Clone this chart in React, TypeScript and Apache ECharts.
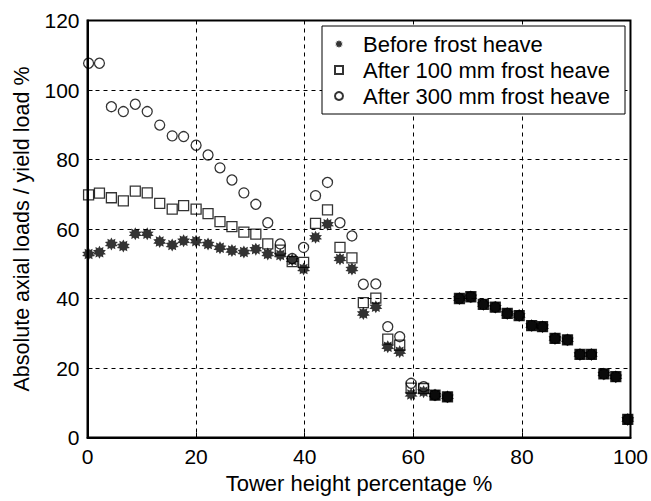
import React, { useEffect, useRef } from "react";
import * as echarts from "echarts";

const xValues = [
  0.2, 2.2, 4.4, 6.6, 8.8, 11.0, 13.3, 15.6, 17.7, 20.0,
  22.2, 24.4, 26.6, 28.8, 31.0, 33.2, 35.5, 37.7, 39.8, 42.0,
  44.2, 46.5, 48.7, 50.8, 53.1, 55.3, 57.5, 59.6, 61.9, 64.0,
  66.3, 68.5, 70.6, 72.9, 75.1, 77.3, 79.5, 81.8, 83.8, 86.1,
  88.4, 90.7, 92.8, 95.1, 97.3, 99.5,
];

const beforeHeave = [
  52.8, 53.3, 55.7, 55.1, 58.6, 58.6, 56.4, 55.4, 56.6, 56.5,
  55.7, 54.6, 53.8, 53.4, 54.2, 52.8, 52.5, 51.1, 48.5, 57.6,
  61.4, 51.4, 48.5, 35.7, 37.6, 26.1, 24.7, 12.4, 13.2, 12.2,
  11.7, 40.0, 40.5, 38.3, 37.5, 35.7, 35.1, 32.2, 31.9, 28.5,
  28.1, 23.9, 23.9, 18.3, 17.5, 5.2,
];

const after100 = [
  69.8, 70.3, 69.0, 68.1, 70.9, 70.4, 67.4, 65.7, 66.7, 65.7,
  64.4, 62.1, 60.7, 59.1, 58.5, 55.7, 53.9, 50.6, 50.4, 61.6,
  65.5, 54.7, 51.7, 38.8, 40.1, 28.3, 26.6, 14.2, 14.1, 12.2,
  11.7, 40.0, 40.5, 38.3, 37.5, 35.7, 35.1, 32.2, 31.9, 28.5,
  28.1, 23.9, 23.9, 18.3, 17.5, 5.2,
];

const after300 = [
  107.7, 107.7, 95.2, 93.8, 95.9, 93.8, 89.9, 86.8, 86.6, 84.1,
  81.3, 77.6, 74.1, 70.4, 67.1, 61.8, 55.7, 51.5, 54.7, 69.6,
  73.4, 61.8, 58.0, 44.1, 44.2, 31.9, 29.0, 15.6, 14.6, 12.2,
  11.7, 40.0, 40.5, 38.3, 37.5, 35.7, 35.1, 32.2, 31.9, 28.5,
  28.1, 23.9, 23.9, 18.3, 17.5, 5.2,
];

const seriesNames = [
  "Before frost heave",
  "After 100 mm frost heave",
  "After 300 mm frost heave",
];

function starPath(points: number, outer: number, inner: number): string {
  let d = "";
  const n = points * 2;
  for (let i = 0; i < n; i++) {
    const r = i % 2 === 0 ? outer : inner;
    const a = (Math.PI * 2 * i) / n - Math.PI / 2;
    const px = (50 + r * Math.cos(a)).toFixed(2);
    const py = (50 + r * Math.sin(a)).toFixed(2);
    d += (i === 0 ? "M" : "L") + px + " " + py + " ";
  }
  return "path://" + d + "Z";
}

const FONT = "'Liberation Sans', Arial, Helvetica, sans-serif";

export default function App() {
  const ref = useRef<HTMLDivElement>(null);

  useEffect(() => {
    if (!ref.current) return;
    document.body.style.margin = "0";
    const chart = echarts.init(ref.current, undefined, { renderer: "svg" });
    const star = starPath(10, 50, 32);
    const squarePath = "path://M0 0 L100 0 L100 100 L0 100 Z";
    const pair = (arr: number[]) => arr.map((v, i) => [xValues[i], v]);
    const overlapStart = 29;

    const option: any = {
      animation: false,
      backgroundColor: "#ffffff",
      textStyle: { fontFamily: FONT },
      grid: {
        left: 87.5,
        right: 19,
        top: 20.5,
        bottom: 63.5,
        show: true,
        borderColor: "#000",
        borderWidth: 2,
        backgroundColor: "transparent",
      },
      xAxis: {
        type: "value",
        min: 0,
        max: 100,
        interval: 20,
        name: "Tower height percentage %",
        nameLocation: "middle",
        nameGap: 35,
        nameTextStyle: { color: "#000", fontSize: 22, fontFamily: FONT },
        axisLine: { show: true, lineStyle: { color: "#000", width: 2 } },
        axisTick: { show: true, inside: true, length: 5, lineStyle: { color: "#000" } },
        axisLabel: { color: "#000", fontSize: 21, margin: 8, fontFamily: FONT },
        splitLine: {
          show: true,
          lineStyle: { color: "#000", width: 1, type: [4, 4] },
        },
      },
      yAxis: {
        type: "value",
        min: 0,
        max: 120,
        interval: 20,
        name: "Absolute axial loads / yield load %",
        nameLocation: "middle",
        nameGap: 55,
        nameTextStyle: { color: "#000", fontSize: 21.5, fontFamily: FONT },
        axisLine: { show: true, lineStyle: { color: "#000", width: 2 } },
        axisTick: { show: true, inside: true, length: 5, lineStyle: { color: "#000" } },
        axisLabel: { color: "#000", fontSize: 21, margin: 8, fontFamily: FONT },
        splitLine: {
          show: true,
          lineStyle: { color: "#000", width: 1, type: [4, 4] },
        },
      },
      graphic: {
        elements: [
          {
            type: "rect",
            shape: { x: 322, y: 26, width: 303, height: 88 },
            style: { fill: "#ffffff", stroke: "#000000", lineWidth: 1 },
            z: 50,
            silent: true,
          },
        ],
      },
      legend: {
        orient: "vertical",
        left: 334,
        top: 33,
        itemWidth: 8,
        itemHeight: 8,
        itemGap: 4,
        padding: 0,
        z: 60,
        textStyle: {
          color: "#000",
          fontSize: 22,
          fontFamily: FONT,
          padding: [0, 0, 0, 15],
        },
        data: seriesNames,
      },
      series: [
        {
          name: seriesNames[0],
          type: "scatter",
          symbol: star,
          symbolSize: 13,
          itemStyle: { color: "#000" },
          data: pair(beforeHeave),
          z: 2,
        },
        {
          name: seriesNames[1],
          type: "scatter",
          symbol: squarePath,
          symbolSize: 10,
          itemStyle: { color: "transparent", borderColor: "#000", borderWidth: 1.3 },
          data: pair(after100).map((p, i) =>
            i >= overlapStart
              ? { value: p, itemStyle: { color: "#000", borderColor: "#000" } }
              : p
          ),
          z: 3,
        },
        {
          name: seriesNames[2],
          type: "scatter",
          symbol: "circle",
          symbolSize: 10,
          itemStyle: { color: "transparent", borderColor: "#000", borderWidth: 1.3 },
          data: pair(after300),
          z: 4,
        },
      ],
    };

    chart.setOption(option);
    return () => chart.dispose();
  }, []);

  return <div ref={ref} style={{ width: 651, height: 501 }} />;
}
